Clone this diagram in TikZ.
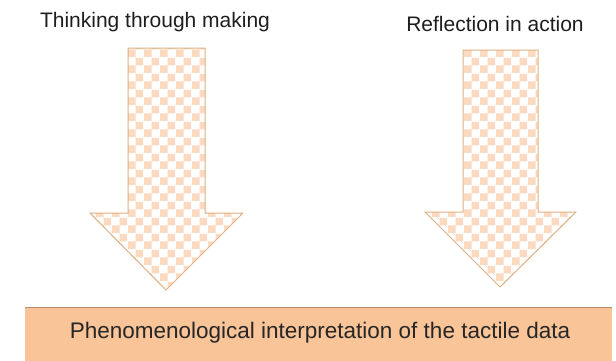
\documentclass[tikz,border=0pt]{standalone}
\usepackage{fontspec}
\setmainfont{Liberation Sans}
\usepackage{tikz}
\usetikzlibrary{patterns.meta}
\definecolor{checkorange}{RGB}{251,218,192}
\definecolor{arrowedge}{RGB}{224,176,130}
\definecolor{boxpeach}{RGB}{249,196,152}
\definecolor{boxedge}{RGB}{180,138,106}
\definecolor{labelgray}{RGB}{30,30,30}

\tikzdeclarepattern{
  name=checks,
  type=uncolored,
  bottom left={(0pt,0pt)},
  top right={(16pt,16pt)},
  tile size={(16pt,16pt)},
  code={
    \fill (0pt,0pt) rectangle (8pt,8pt);
    \fill (8pt,8pt) rectangle (16pt,16pt);
  }
}

\begin{document}
\begin{tikzpicture}[
    x=1pt,
    y=-1pt,
    font=\fontsize{21}{25}\selectfont,
    bigarrow/.style={draw=arrowedge, line width=1pt, preaction={fill=white},
                     pattern=checks, pattern color=checkorange},
    label/.style={text=labelgray}
]
    \useasboundingbox (0,0) rectangle (616,360);

    % Labels
    \node[label] (making) at (155,22) {Thinking through making};
    \node[label] (reflection) at (495,24) {Reflection in action};

    % Left arrow
    \path[bigarrow] (128,48) -- (205,48) -- (205,213) -- (243,213)
        -- (166,290) -- (90,213) -- (128,213) -- cycle;

    % Right arrow
    \path[bigarrow] (463,50) -- (538,50) -- (538,212) -- (576,212)
        -- (500,287) -- (425,212) -- (463,212) -- cycle;

    % Result box
    \fill[boxpeach] (25,307) rectangle (612,362);
    \draw[boxedge, line width=1pt] (25,307) -- (612,307);
    \node[text=black!85, font=\fontsize{22.5}{27}\selectfont] (result) at (320,333)
        {Phenomenological interpretation of the tactile data};
\end{tikzpicture}
\end{document}
